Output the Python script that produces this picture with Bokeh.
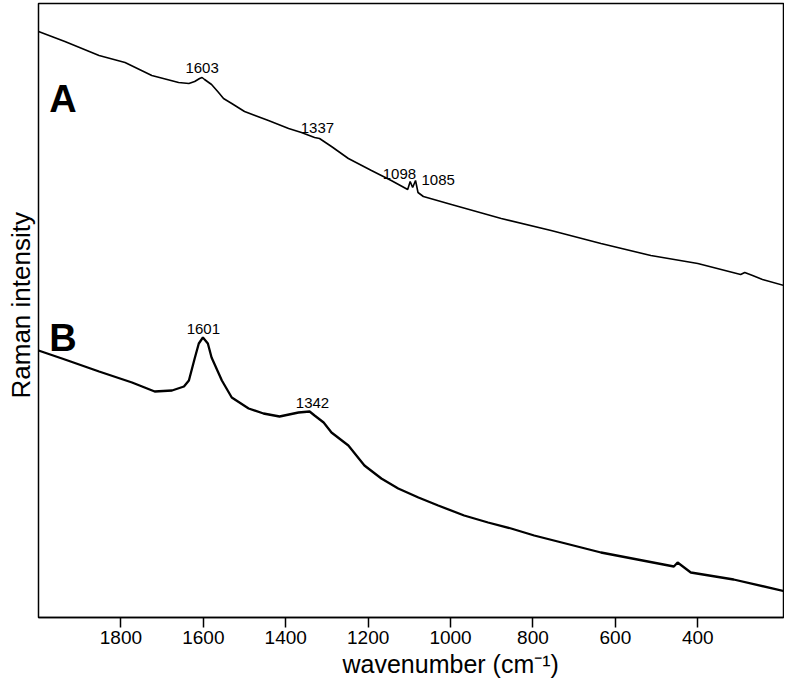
from bokeh.plotting import figure
from bokeh.models import Range1d, FixedTicker, Title
from bokeh.core.properties import value
from bokeh.embed import file_html
from bokeh.resources import INLINE

# Spectrum A (wavenumber in cm-1, Raman intensity in arbitrary units)
wn_a = [2000, 1936, 1853, 1790, 1725, 1660, 1635, 1621, 1609, 1603, 1597, 1580,
        1563, 1551, 1531, 1500, 1442, 1393, 1362, 1330, 1318, 1289, 1248, 1192,
        1144, 1104, 1098, 1092, 1085, 1079, 1066, 998, 877, 756, 635, 514, 400,
        296, 286, 267, 243, 182]
int_a = [586, 576, 562, 555, 542, 535, 534, 536, 539, 540, 538, 533,
         525, 519, 514, 506, 497, 489, 485, 480, 479, 471, 459, 447,
         437, 428, 436, 430, 437, 425, 421, 413, 399, 387, 374, 362, 354,
         343, 345, 342, 338, 331]

# Spectrum B
wn_b = [2000, 1936, 1853, 1773, 1718, 1676, 1647, 1635, 1621, 1611, 1601, 1589,
        1580, 1555, 1531, 1490, 1454, 1415, 1369, 1342, 1330, 1308, 1289, 1248,
        1209, 1168, 1127, 1078, 1030, 967, 909, 853, 797, 635, 458, 449, 417,
        313, 187]
int_b = [267, 258, 246, 235, 226, 227, 231, 237, 259, 274, 280, 274,
         260, 237, 220, 209, 204, 201, 205, 206, 202, 195, 185, 172,
         152, 139, 129, 120, 112, 102, 95, 89, 82, 65, 51, 55, 45,
         38, 26]

# Peak annotations
peak_text = ["1603", "1337", "1098", "1085", "1601", "1342"]
peak_x = [1603, 1323, 1124, 1030, 1600, 1335]
peak_y = [550, 490, 444, 438, 289, 215]

# Trace letters
trace_text = ["A", "B"]
trace_x = [1974, 1974]
trace_y = [519, 280]

x_ticks = [1800, 1600, 1400, 1200, 1000, 800, 600, 400]
x_title = "wavenumber (cm\u207b\u00b9)"
y_title = "Raman intensity"

FONT = "Liberation Sans"

p = figure(width=784, height=685, output_backend="svg", toolbar_location=None,
           x_range=Range1d(2000, 192), y_range=Range1d(0, 614),
           min_border_left=36, min_border_right=1, min_border_top=3,
           min_border_bottom=68)

p.line(wn_a, int_a, line_color="black", line_width=1.6)
p.line(wn_b, int_b, line_color="black", line_width=2.3)

p.text(x=peak_x, y=peak_y, text=peak_text, text_align="center",
       text_baseline="alphabetic", text_font=value(FONT),
       text_font_size="15px", text_color="black")
p.text(x=trace_x, y=trace_y, text=trace_text, text_align="left",
       text_baseline="alphabetic", text_font=value(FONT),
       text_font_size="38px", text_font_style="bold", text_color="black")

p.xgrid.visible = False
p.ygrid.visible = False
p.outline_line_color = "black"
p.outline_line_width = 1.5
p.outline_line_alpha = 1.0
p.background_fill_color = "white"
p.border_fill_color = "white"

xa = p.xaxis[0]
xa.ticker = FixedTicker(ticks=x_ticks)
xa.minor_tick_line_color = None
xa.major_tick_in = 0
xa.major_tick_out = 10
xa.major_tick_line_color = "black"
xa.major_tick_line_width = 1.5
xa.axis_line_color = "black"
xa.axis_line_width = 1.5
xa.major_label_standoff = 3
xa.major_label_text_font = FONT
xa.major_label_text_font_size = "19px"
xa.major_label_text_color = "black"

p.yaxis.visible = False

# Axis titles as side titles, offset to sit where the original has them
p.add_layout(Title(text=x_title, align="left", offset=304, standoff=3,
                   text_font=FONT, text_font_size="25px",
                   text_font_style="normal", text_color="black"), "below")
p.add_layout(Title(text=y_title, align="left", offset=219, standoff=6,
                   text_font=FONT, text_font_size="26px",
                   text_font_style="normal", text_color="black"), "left")

open("out.html", "w").write(file_html(p, INLINE))
